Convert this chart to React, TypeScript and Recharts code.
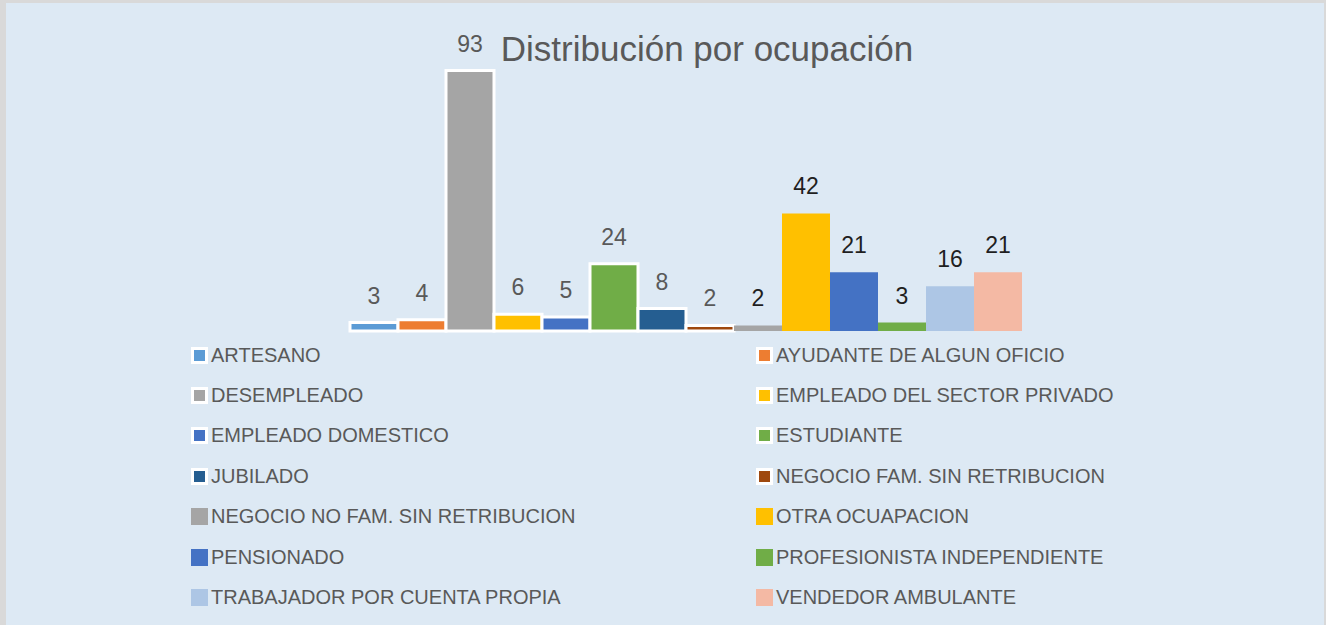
import { BarChart, Bar, XAxis, YAxis, Cell, LabelList } from 'recharts';

const categories = [
  'ARTESANO',
  'AYUDANTE DE ALGUN OFICIO',
  'DESEMPLEADO',
  'EMPLEADO DEL SECTOR PRIVADO',
  'EMPLEADO DOMESTICO',
  'ESTUDIANTE',
  'JUBILADO',
  'NEGOCIO FAM. SIN RETRIBUCION',
  'NEGOCIO NO FAM. SIN RETRIBUCION',
  'OTRA OCUAPACION',
  'PENSIONADO',
  'PROFESIONISTA INDEPENDIENTE',
  'TRABAJADOR POR CUENTA PROPIA',
  'VENDEDOR AMBULANTE',
];

const values = [3, 4, 93, 6, 5, 24, 8, 2, 2, 42, 21, 3, 16, 21];

const colors = [
  '#5B9BD5', '#ED7D31', '#A5A5A5', '#FFC000', '#4472C4', '#70AD47', '#255E91',
  '#9E480E', '#A5A5A5', '#FFC000', '#4472C4', '#70AD47', '#ADC6E5', '#F4B9A4',
];

// the first eight series carry a white outline and grey labels in the original
const outlined = [true, true, true, true, true, true, true, true, false, false, false, false, false, false];

const data = categories.map((name, i) => ({ name, value: values[i] }));

const FONT = '"Liberation Sans", Arial, sans-serif';

function renderLabel(props: any) {
  const { x, y, width, value, index } = props;
  return (
    <text
      x={x + width / 2}
      y={y - 19}
      textAnchor="middle"
      fontSize={23}
      fontFamily={FONT}
      fill={outlined[index] ? '#595959' : '#1f1f1f'}
    >
      {value}
    </text>
  );
}

export default function App() {
  return (
    <div
      style={{
        position: 'absolute',
        left: 0,
        top: 0,
        width: 1326,
        height: 625,
        background: '#DDE9F4',
        boxSizing: 'border-box',
        borderLeft: '6px solid #D9D9D9',
        borderTop: '3px solid #D9D9D9',
        borderRight: '2px solid #D9D9D9',
        fontFamily: FONT,
        overflow: 'hidden',
      }}
    >
      <div
        style={{
          position: 'absolute',
          left: -6,
          top: 26,
          width: 1414,
          textAlign: 'center',
          fontSize: 35,
          color: '#595959',
        }}
      >
        Distribución por ocupación
      </div>
      <div style={{ position: 'absolute', left: -6, top: -3 }}>
        <BarChart
          width={1326}
          height={625}
          data={data}
          margin={{ top: 51, right: 304, bottom: 294, left: 350 }}
          barCategoryGap={0}
        >
          <XAxis dataKey="name" hide />
          <YAxis hide domain={[0, 100]} />
          <Bar dataKey="value" isAnimationActive={false}>
            {data.map((d, i) => (
              <Cell
                key={d.name}
                fill={colors[i]}
                stroke={outlined[i] ? '#FFFFFF' : 'none'}
                strokeWidth={outlined[i] ? 3 : 0}
              />
            ))}
            <LabelList dataKey="value" content={renderLabel} />
          </Bar>
        </BarChart>
      </div>
      {categories.map((name, i) => {
        const col = i % 2;
        const row = Math.floor(i / 2);
        const left = col === 0 ? 185 : 750;
        const top = 352 + row * 40.4;
        return (
          <div
            key={name}
            style={{
              position: 'absolute',
              left,
              top: top - 12,
              height: 24,
              display: 'flex',
              alignItems: 'center',
              fontSize: 20,
              color: '#595959',
              whiteSpace: 'nowrap',
            }}
          >
            <span
              style={{
                display: 'inline-block',
                width: 11,
                height: 11,
                background: colors[i],
                border: outlined[i] ? '3px solid #FFFFFF' : '3px solid transparent',
                marginRight: 3,
              }}
            />
            {name}
          </div>
        );
      })}
    </div>
  );
}
